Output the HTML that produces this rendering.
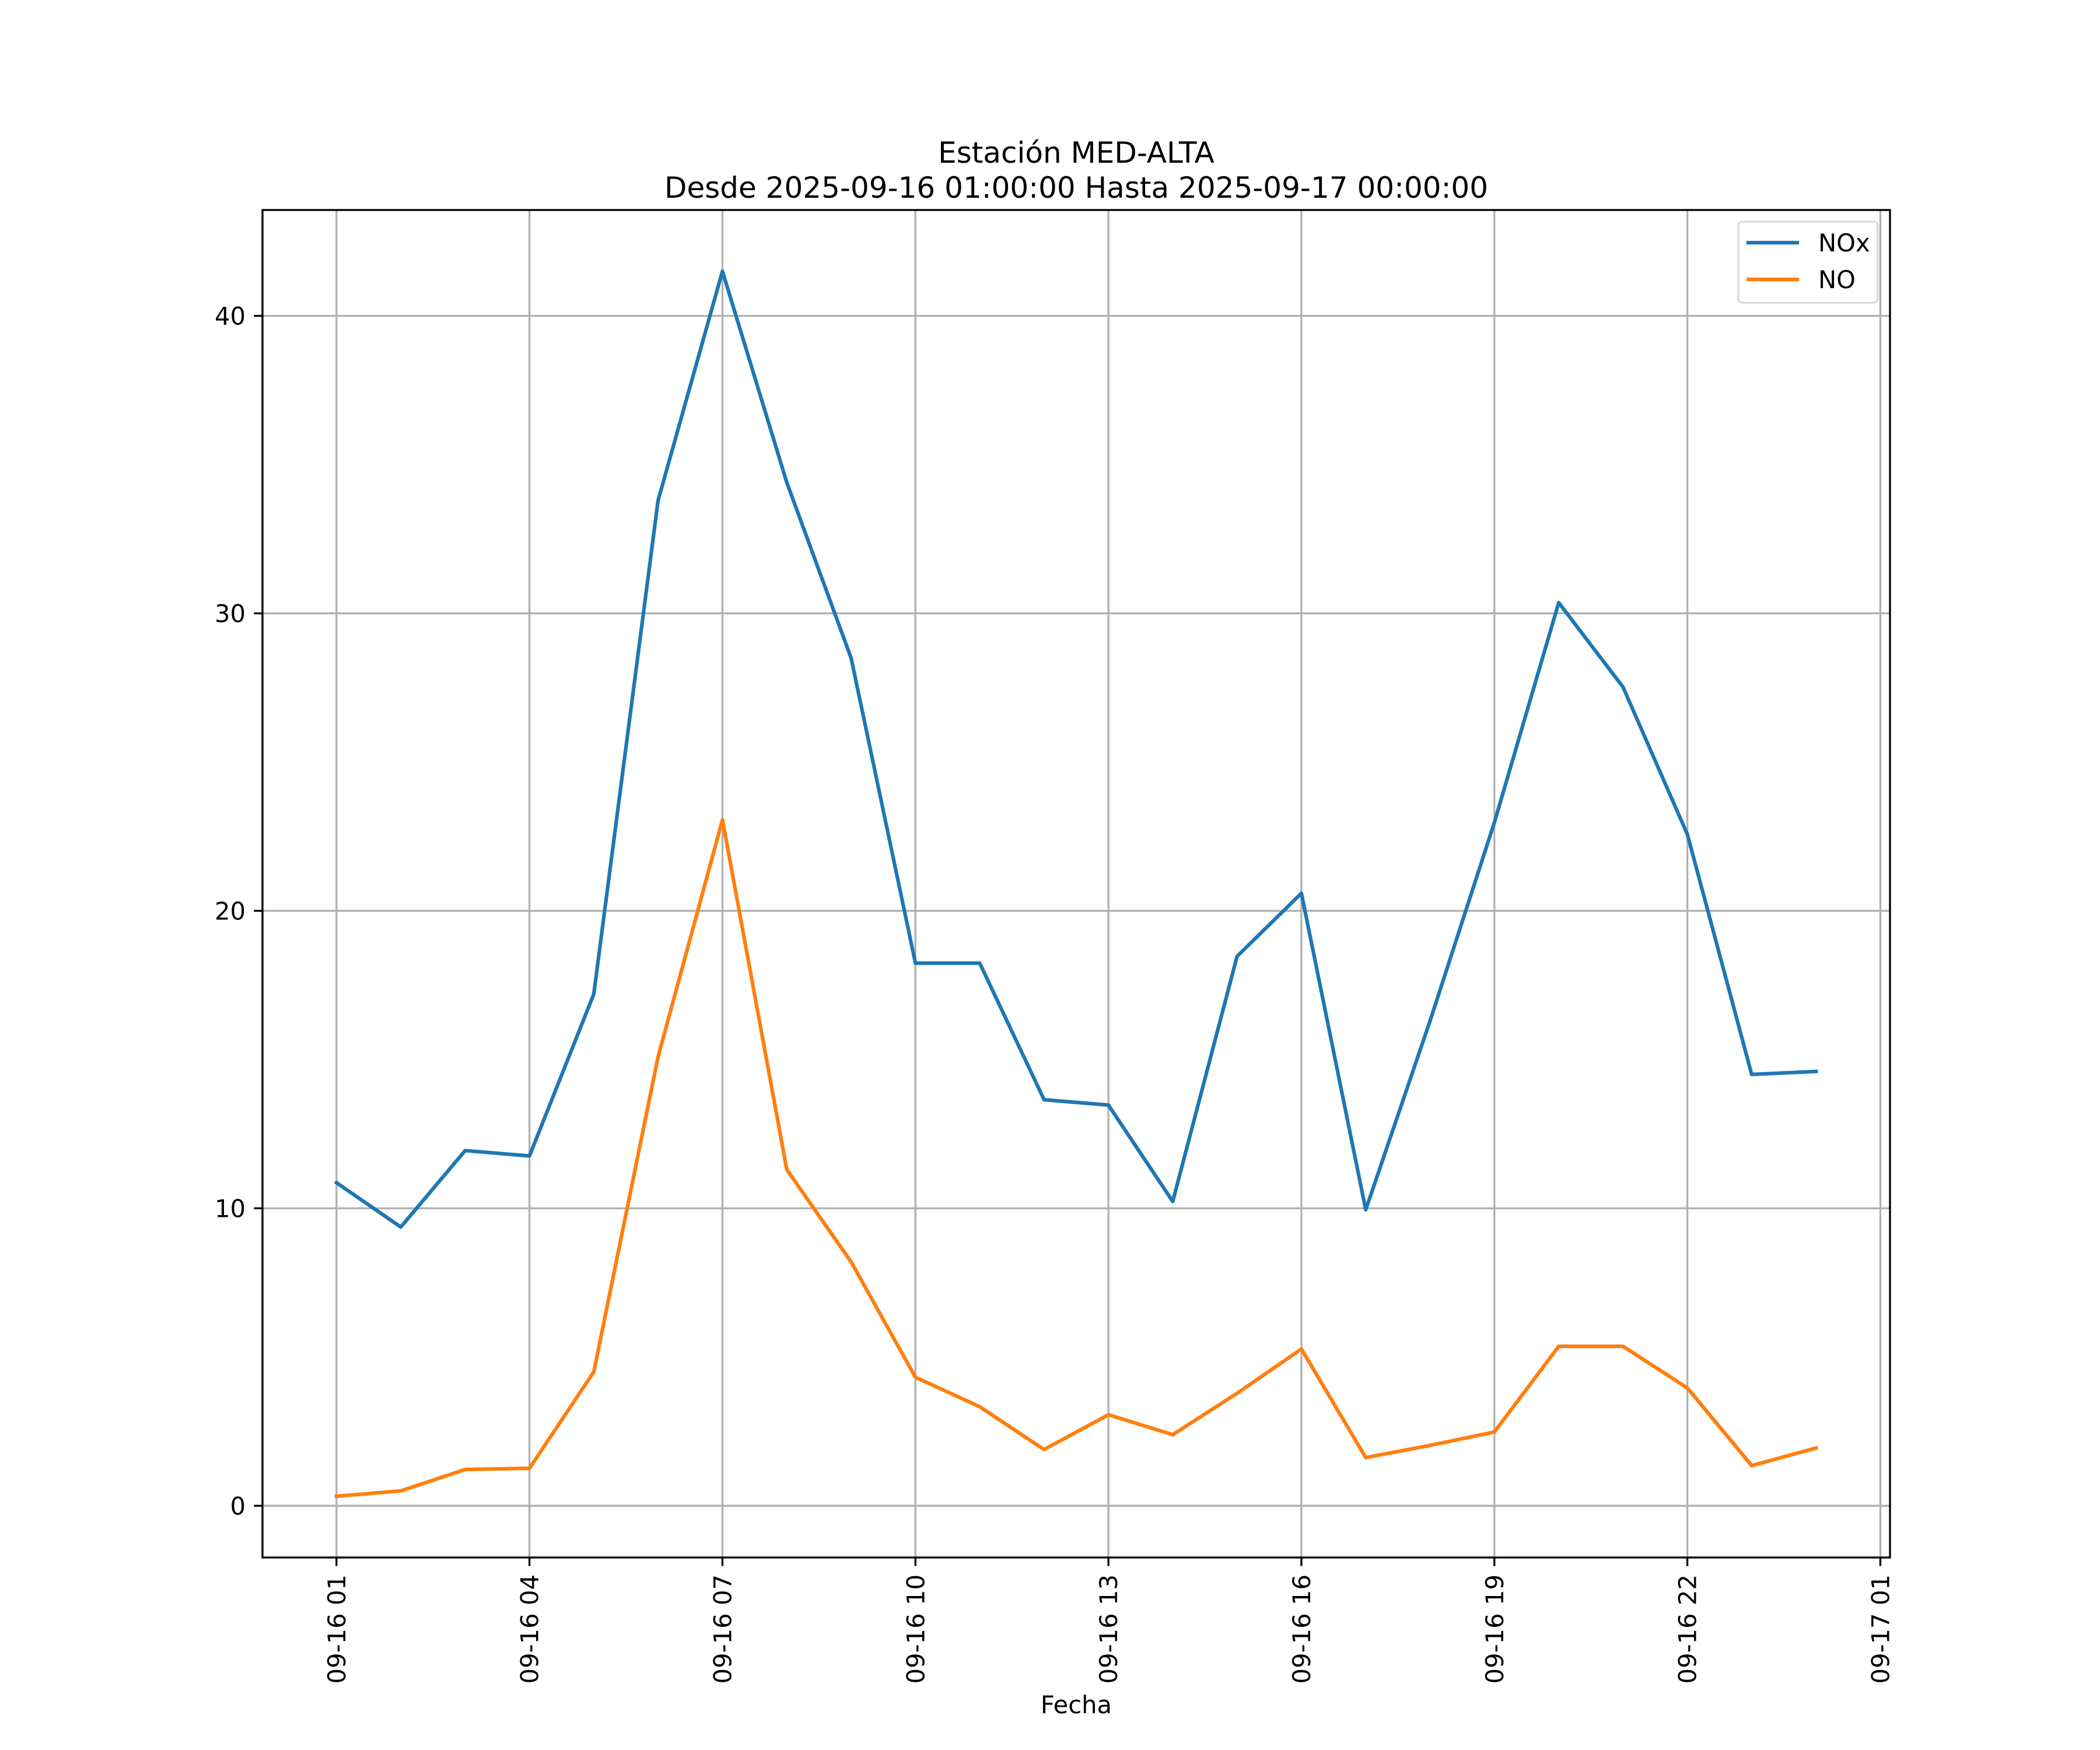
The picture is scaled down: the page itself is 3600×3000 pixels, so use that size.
<!DOCTYPE html>
<html><head><meta charset="utf-8"><style>html,body{margin:0;padding:0;background:#fff}svg{display:block}text{font-family:"DejaVu Sans","Liberation Sans",sans-serif;fill:#000}</style></head>
<body>
<svg id="chart" width="3600" height="3000" viewBox="0 0 3600 3000" xmlns="http://www.w3.org/2000/svg">
<rect width="3600" height="3000" fill="#fff"/>
<g id="grid"></g>
<g id="series"></g>
<g id="axes"></g>
<text x="1845" y="279" font-size="50" text-anchor="middle">Estación MED-ALTA</text>
<text x="1845" y="339" font-size="50" text-anchor="middle">Desde 2025-09-16 01:00:00 Hasta 2025-09-17 00:00:00</text>
<text x="1845" y="2937" font-size="41.7" text-anchor="middle">Fecha</text>
<g>
<rect x="2980" y="380" width="239" height="139" rx="7" fill="#fff" fill-opacity="0.8" stroke="#d9d9d9" stroke-width="3.3"/>
<line x1="2994" y1="416" x2="3084" y2="416" stroke="#1f77b4" stroke-width="6.25"/>
<text x="3117" y="431" font-size="41.7">NOx</text>
<line x1="2994" y1="479" x2="3084" y2="479" stroke="#ff7f0e" stroke-width="6.25"/>
<text x="3117" y="494" font-size="41.7">NO</text>
</g>
</svg>
<script>
const hours = [0,1,2,3,4,5,6,7,8,9,10,11,12,13,14,15,16,17,18,19,20,21,22,23];
const noxValues = [10.86,9.37,11.94,11.76,17.2,33.8,41.5,34.4,28.5,18.24,18.24,13.65,13.47,10.23,18.47,20.59,9.95,16.3,22.97,30.36,27.52,22.57,14.5,14.6];
const noValues = [0.32,0.5,1.22,1.26,4.5,15.1,23.06,11.3,8.2,4.32,3.33,1.89,3.06,2.39,3.78,5.27,1.62,2.03,2.48,5.36,5.36,3.96,1.35,1.94];
const xTickHours = [0,3,6,9,12,15,18,21,24];
const xTickLabels = ["09-16 01","09-16 04","09-16 07","09-16 10","09-16 13","09-16 16","09-16 19","09-16 22","09-17 01"];
const yTicks = [0,10,20,30,40];

const NS="http://www.w3.org/2000/svg";
const L=450,R=3240,T=360,B=2670;
const xmin0=Math.min(...hours),xmax0=Math.max(...hours),xs=xmax0-xmin0;
const xMin=xmin0-0.05*xs,xMax=xmax0+0.05*xs;
const all=noxValues.concat(noValues);
const ymin0=Math.min(...all),ymax0=Math.max(...all),ys=ymax0-ymin0;
const yMin=ymin0-0.05*ys,yMax=ymax0+0.05*ys;
function X(h){return L+(h-xMin)/(xMax-xMin)*(R-L);}
function Y(v){return B-(v-yMin)/(yMax-yMin)*(B-T);}
function mk(tag,attrs,parent){const e=document.createElementNS(NS,tag);for(const k in attrs)e.setAttribute(k,attrs[k]);parent.appendChild(e);return e;}
const grid=document.getElementById('grid'),axes=document.getElementById('axes'),ser=document.getElementById('series');
xTickHours.forEach((h,i)=>{
  const x=X(h);
  const g=mk('line',{x1:x,y1:T,x2:x,y2:B,stroke:'#b0b0b0','stroke-width':3.3},grid);
  
  
  const t=mk('line',{x1:x,y1:B,x2:x,y2:B+14.6,stroke:'#000','stroke-width':3.3},axes);
  
  
  const lb=mk('text',{x:0,y:0,'font-size':41.7,'text-anchor':'end',transform:`translate(${x+15},${B+29}) rotate(-90)`},axes);
  lb.textContent=xTickLabels[i];
  
  
});
yTicks.forEach(v=>{
  const y=Y(v);
  const g=mk('line',{x1:L,y1:y,x2:R,y2:y,stroke:'#b0b0b0','stroke-width':3.3},grid);
  
  
  const t=mk('line',{x1:L-14.6,y1:y,x2:L,y2:y,stroke:'#000','stroke-width':3.3},axes);
  
  
  const lb=mk('text',{x:L-29,y:y+15,'font-size':41.7,'text-anchor':'end'},axes);
  lb.textContent=String(v);
  
  
});
function line(vals,color,name){
  const p=mk('polyline',{points:hours.map((h,i)=>X(h)+','+Y(vals[i])).join(' '),fill:'none',stroke:color,'stroke-width':6.25,'stroke-linejoin':'round','stroke-linecap':'square'},ser);
  
  
}
line(noxValues,'#1f77b4','nox-line');
line(noValues,'#ff7f0e','no-line');
const fr=mk('rect',{x:L,y:T,width:R-L,height:B-T,fill:'none',stroke:'#000','stroke-width':3.3},axes);


</script>
</body></html>
